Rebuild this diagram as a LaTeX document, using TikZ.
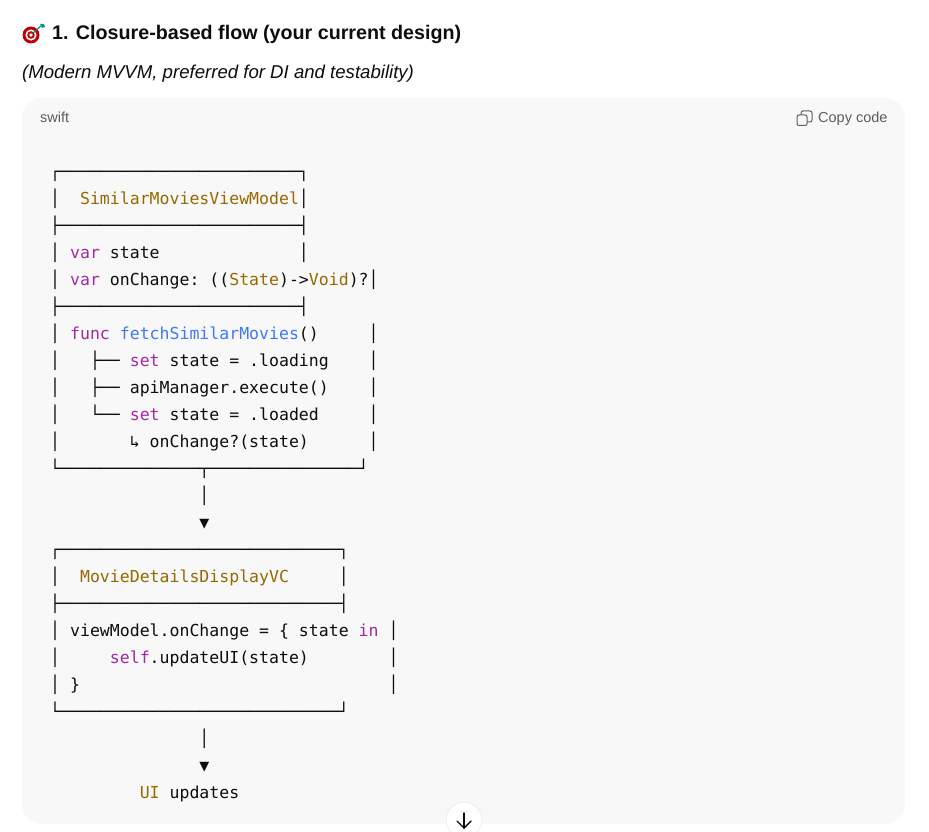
\documentclass[tikz,border=0pt]{standalone}
\usepackage{fontspec}
\usepackage{tikz}
\setmainfont{Liberation Sans}
\newfontfamily\codefont{DejaVu Sans Mono}
\definecolor{pagetext}{HTML}{0D0D0D}
\definecolor{cardbg}{HTML}{F8F8F8}
\definecolor{mutedtext}{HTML}{5D5D5D}
\definecolor{kwcolor}{HTML}{A626A4}
\definecolor{typecolor}{HTML}{986801}
\definecolor{fncolor}{HTML}{4078F2}
\newcommand{\kw}[1]{\textcolor{kwcolor}{#1}}
\newcommand{\ty}[1]{\textcolor{typecolor}{#1}}
\newcommand{\fn}[1]{\textcolor{fncolor}{#1}}
\tikzset{
  codeline/.style={anchor=base west,inner sep=0pt,text=pagetext,
    font=\fontsize{16.53}{27}\codefont\frenchspacing\obeyspaces},
  uilabel/.style={anchor=base west,inner sep=0pt,text=mutedtext,font=\fontsize{14.5}{16}\selectfont}
}

\begin{document}
\begin{tikzpicture}[x=1pt,y=-1pt]
              \useasboundingbox (0,0) rectangle (929,832);
              \fill[white] (0,0) rectangle (929,832);
              \fill[cardbg,rounded corners=20pt] (22,98) rectangle (905,824);

              \fill[red!75!black] (31,35) circle (8.5);
              \fill[white] (31,35) circle (5.6);
              \fill[red!75!black] (31,35) circle (3.8);
              \fill[white] (31,35) circle (1.9);
              \draw[teal,line width=1.1pt] (32,34) -- (41,26);
              \fill[teal!80!cyan] (40,24) -- (44,24) -- (45,27) -- (42,28) -- cycle;

              \node[anchor=base west,inner sep=0pt,text=pagetext,font=\fontsize{19.7}{24}\selectfont\bfseries] (title) at (52,39.5) {1. Closure-based flow (your current design)};
              \node[anchor=base west,inner sep=0pt,text=pagetext,font=\fontsize{18.6}{24}\selectfont\itshape] (subtitle) at (22,79) {(Modern MVVM, preferred for DI and testability)};
              \node[uilabel] (lang) at (40,123) {swift};
              \node[uilabel] (copy) at (818,123) {Copy code};

              \draw[mutedtext,line width=1pt,rounded corners=2pt] (801,111) rectangle (812,122);
              \draw[mutedtext,fill=cardbg,line width=1pt,rounded corners=2pt] (797,115) rectangle (807,125.5);

              \node[codeline] (vmtop) at (50,177) {┌────────────────────────┐};
              \node[codeline] (vmname) at (50,204.5) {│  \ty{SimilarMoviesViewModel}│};
              \node[codeline] (vmruleone) at (50,231) {├────────────────────────┤};
              \node[codeline] (vmstate) at (50,258) {│ \kw{var} state              │};
              \node[codeline] (vmchange) at (50,285) {│ \kw{var} onChange: ((\ty{State})->\ty{Void})?│};
              \node[codeline] (vmruletwo) at (50,312) {├────────────────────────┤};
              \node[codeline] (vmfunc) at (50,339) {│ \kw{func} \fn{fetchSimilarMovies}()     │};
              \node[codeline] (vmset) at (50,366) {│   ├── \kw{set} state = .loading    │};
              \node[codeline] (vmapi) at (50,393) {│   ├── apiManager.execute()    │};
              \node[codeline] (vmdone) at (50,420) {│   └── \kw{set} state = .loaded     │};
              \node[codeline] (vmcall) at (50,447) {│       ↳ onChange?(state)      │};
              \node[codeline] (vmbottom) at (50,474) {└──────────────┬───────────────┘};
              \node[codeline] (stemone) at (199.25,501) {│};
              \node[codeline] (tipone) at (199.25,528) {▼};

              \node[codeline] (vctop) at (50,555) {┌────────────────────────────┐};
              \node[codeline] (vcname) at (50,582) {│  \ty{MovieDetailsDisplayVC}     │};
              \node[codeline] (vcrule) at (50,609) {├────────────────────────────┤};
              \node[codeline] (vcbind) at (50,636) {│ viewModel.onChange = \{ state \kw{in} │};
              \node[codeline] (vcself) at (50,663) {│     \kw{self}.updateUI(state)        │};
              \node[codeline] (vcclose) at (50,690) {│ \}                               │};
              \node[codeline] (vcbottom) at (50,717) {└────────────────────────────┘};
              \node[codeline] (stemtwo) at (199.25,744) {│};
              \node[codeline] (tiptwo) at (199.25,771) {▼};
              \node[codeline] (uiupdates) at (139.55,798) {\ty{UI} updates};

              \draw[black!12,fill=white] (464,820) circle (18);
              \draw[pagetext,line width=1.4pt,line cap=round,line join=round] (464,813) -- (464,828);
              \draw[pagetext,line width=1.4pt,line cap=round,line join=round] (457,821) -- (464,828) -- (471,821);
             \end{tikzpicture}
\end{document}
